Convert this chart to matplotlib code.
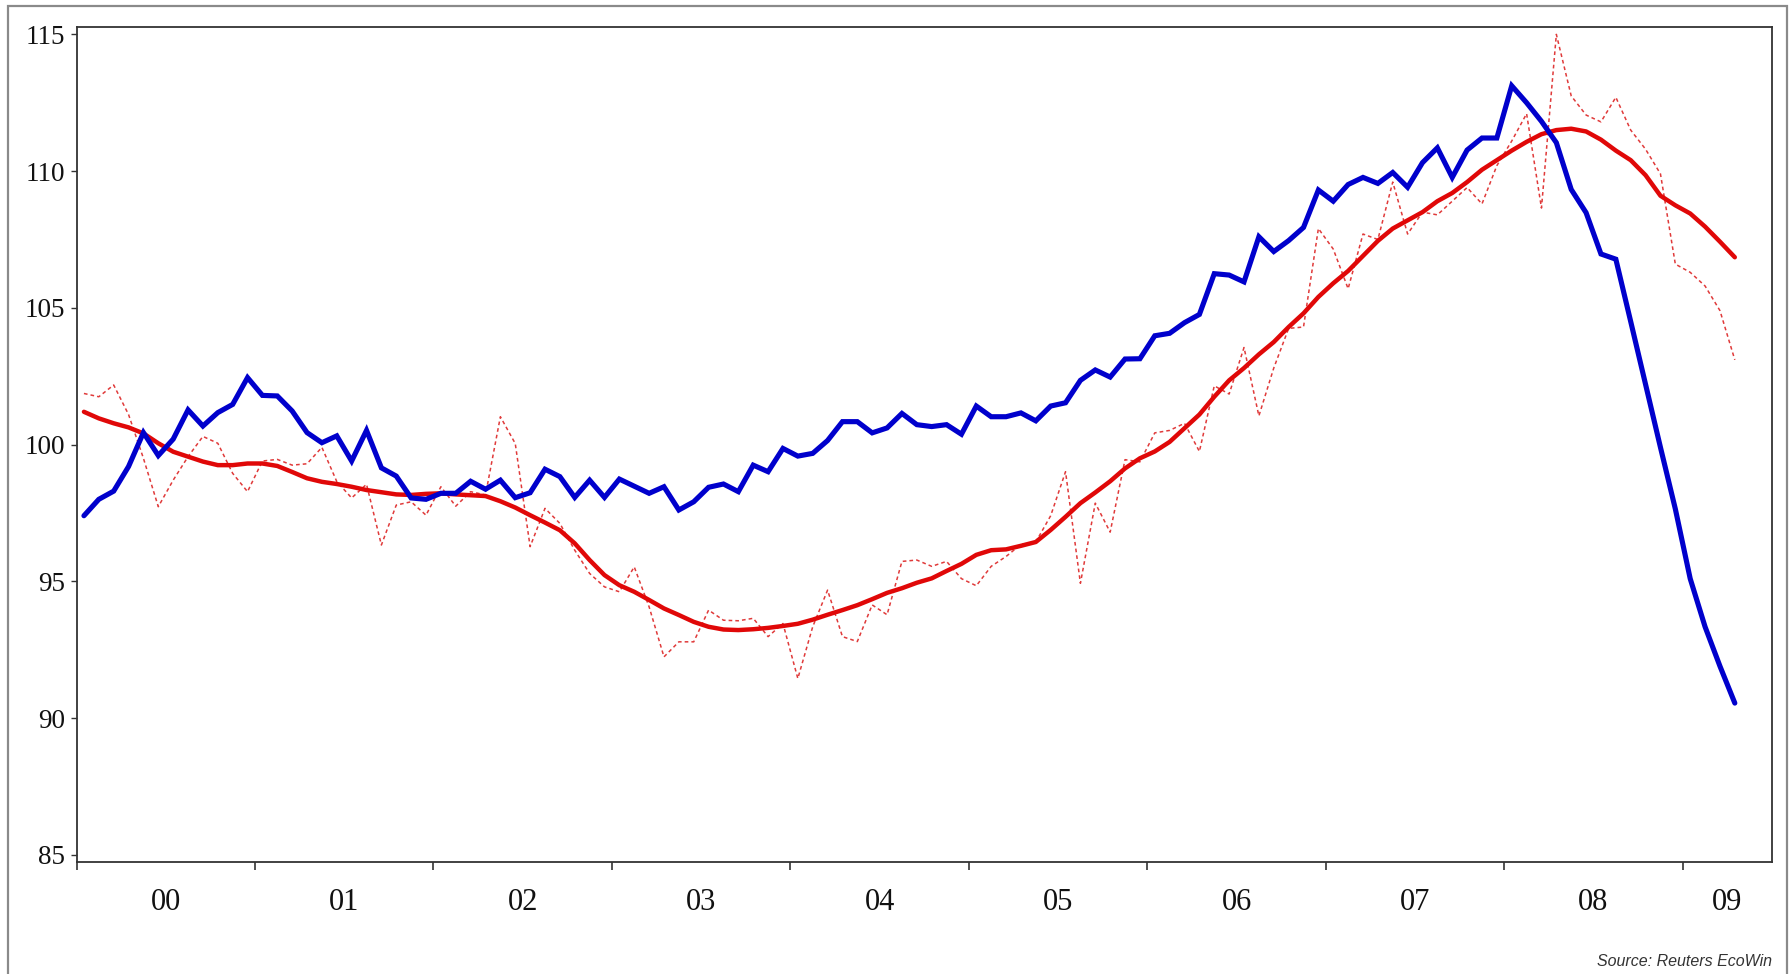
import numpy as np
import pandas as pd
import matplotlib
matplotlib.use("Agg")
import matplotlib.pyplot as plt
from matplotlib.patches import Rectangle
from matplotlib.ticker import FixedLocator, NullFormatter, FixedFormatter

# ---------------- data (monthly, Jan 2000 - Apr 2009) ----------------
months = pd.date_range("2000-01-01", periods=112, freq="MS")

blue_index = [
    97.4, 98.0, 98.3, 99.2, 100.44, 99.6, 100.2, 101.27, 100.68, 101.17, 101.47, 102.45,
    101.8, 101.78, 101.23, 100.44, 100.07, 100.32, 99.4, 100.52, 99.15, 98.85, 98.05, 98.0,
    98.22, 98.22, 98.66, 98.37, 98.7, 98.06, 98.24, 99.1, 98.83, 98.07, 98.7, 98.07,
    98.74, 98.48, 98.22, 98.46, 97.61, 97.91, 98.44, 98.56, 98.28, 99.25, 99.01, 99.86,
    99.58, 99.68, 100.15, 100.84, 100.84, 100.43, 100.61, 101.14, 100.73, 100.66, 100.73, 100.38,
    101.41, 101.02, 101.02, 101.16, 100.87, 101.41, 101.53, 102.35, 102.73, 102.47, 103.13, 103.14,
    103.98, 104.07, 104.46, 104.76, 106.25, 106.2, 105.95, 107.6, 107.06, 107.46, 107.94, 109.31,
    108.9, 109.51, 109.77, 109.55, 109.95, 109.41, 110.31, 110.85, 109.77, 110.77, 111.21, 111.21,
    113.12, 112.5, 111.82, 111.04, 109.33, 108.48, 106.97, 106.78, 104.5, 102.2, 99.9, 97.65,
    95.1, 93.34, 91.9, 90.55,
]

red_monthly = [
    101.87, 101.75, 102.18, 101.1, 99.5, 97.73, 98.7, 99.56, 100.3, 100.05, 98.95, 98.28,
    99.4, 99.46, 99.25, 99.3, 99.9, 98.65, 98.05, 98.55, 96.33, 97.79, 97.91, 97.42,
    98.46, 97.75, 98.28, 98.16, 101.02, 100.04, 96.27, 97.67, 97.12, 96.14, 95.29, 94.8,
    94.62, 95.53, 94.07, 92.24, 92.79, 92.79, 93.95, 93.58, 93.56, 93.65, 92.98, 93.46,
    91.45, 93.34, 94.68, 92.98, 92.8, 94.14, 93.78, 95.73, 95.78, 95.55, 95.73, 95.1,
    94.84, 95.55, 95.91, 96.35, 96.44, 97.4, 99.01, 94.93, 97.86, 96.8, 99.45, 99.37,
    100.43, 100.52, 100.78, 99.75, 102.15, 101.85, 103.55, 101.05, 102.8, 104.25, 104.3, 107.9,
    107.15, 105.7, 107.7, 107.5, 109.6, 107.7, 108.5, 108.4, 108.9, 109.4, 108.8, 110.2,
    111.1, 112.1, 108.65, 115.0, 112.75, 112.05, 111.8, 112.7, 111.5, 110.8, 109.9, 106.6,
    106.3, 105.8, 104.9, 103.1,
]

red_smooth = [
    101.2, 100.96, 100.78, 100.63, 100.41, 100.05, 99.74, 99.56, 99.38, 99.25, 99.25, 99.31,
    99.31, 99.22, 99.0, 98.77, 98.64, 98.56, 98.46, 98.34, 98.26, 98.18, 98.16, 98.2,
    98.22, 98.18, 98.15, 98.12, 97.93, 97.7, 97.42, 97.15, 96.87, 96.39, 95.78, 95.23,
    94.86, 94.62, 94.32, 94.01, 93.77, 93.52, 93.34, 93.24, 93.22, 93.25, 93.3, 93.37,
    93.45, 93.6, 93.78, 93.95, 94.13, 94.35, 94.58, 94.75, 94.95, 95.11, 95.38, 95.64,
    95.97, 96.14, 96.17, 96.3, 96.44, 96.88, 97.36, 97.86, 98.25, 98.66, 99.13, 99.5,
    99.75, 100.1, 100.6, 101.1, 101.75, 102.35, 102.8, 103.3, 103.75, 104.3, 104.8, 105.4,
    105.9, 106.35, 106.9, 107.45, 107.9, 108.2, 108.5, 108.9, 109.2, 109.6, 110.05, 110.4,
    110.75, 111.07, 111.35, 111.5, 111.55, 111.45, 111.15, 110.75, 110.4, 109.85, 109.1, 108.75,
    108.45, 107.97, 107.42, 106.85,
]

year_labels = ["00", "01", "02", "03", "04", "05", "06", "07", "08", "09"]
y_ticks = [85, 90, 95, 100, 105, 110, 115]

# decimal-year positions (mid-month)
x = months.year + (months.month - 0.5) / 12.0

# ---------------- figure ----------------
W, H = 1789, 974
fig = plt.figure(figsize=(W / 100, H / 100), dpi=100)
fig.patch.set_facecolor("white")

ax = fig.add_axes([76.5 / W, 1 - 862 / H, (1772 - 76.5) / W, (862 - 26.7) / H])

ax.plot(x, red_monthly, color="#e03a3a", lw=1.1, dashes=(2.4, 2.0), zorder=2)
ax.plot(x, red_smooth, color="#e00808", lw=3.2, solid_capstyle="round", zorder=3)
ax.plot(x, blue_index, color="#0000cc", lw=3.7, solid_capstyle="round",
        solid_joinstyle="miter", zorder=4)

ax.set_xlim(2000.0, 2009.5)
ax.set_ylim(84.74, 115.28)

serif = ["Liberation Serif", "DejaVu Serif"]

# y axis
ax.yaxis.set_major_locator(FixedLocator(y_ticks))
ax.set_yticklabels([str(v) for v in y_ticks], fontfamily=serif, fontsize=19.5, color="#111111")
ax.tick_params(axis="y", which="major", direction="out", length=4.5, width=1.0,
               pad=3.5, color="#333333")

# x axis: ticks at year boundaries, labels centred in each year
ax.xaxis.set_major_locator(FixedLocator(list(range(2000, 2010))))
ax.xaxis.set_major_formatter(NullFormatter())
ax.xaxis.set_minor_locator(FixedLocator([2000.5 + i for i in range(9)] + [2009.25]))
ax.xaxis.set_minor_formatter(FixedFormatter(year_labels))
ax.tick_params(axis="x", which="major", direction="out", length=6, width=1.2, color="#333333")
ax.tick_params(axis="x", which="minor", length=0, pad=19)
for lab in ax.get_xticklabels(minor=True):
    lab.set_fontfamily(serif)
    lab.set_fontsize(22)
    lab.set_color("#111111")

for sp in ax.spines.values():
    sp.set_color("#333333")
    sp.set_linewidth(1.3)

# outer grey frame
fig.add_artist(Rectangle((8 / W, -0.02), (1787 - 8) / W, 1.02 - 6 / H,
                         transform=fig.transFigure, fill=False,
                         edgecolor="#8a8a8a", lw=1.6))

fig.text(1772 / W, 1 - 962 / H, "Source: Reuters EcoWin", ha="right", va="center",
         fontsize=11.5, fontstyle="italic", fontfamily=["Liberation Sans", "DejaVu Sans"],
         color="#333333")

fig.savefig("out.png", dpi=100)
